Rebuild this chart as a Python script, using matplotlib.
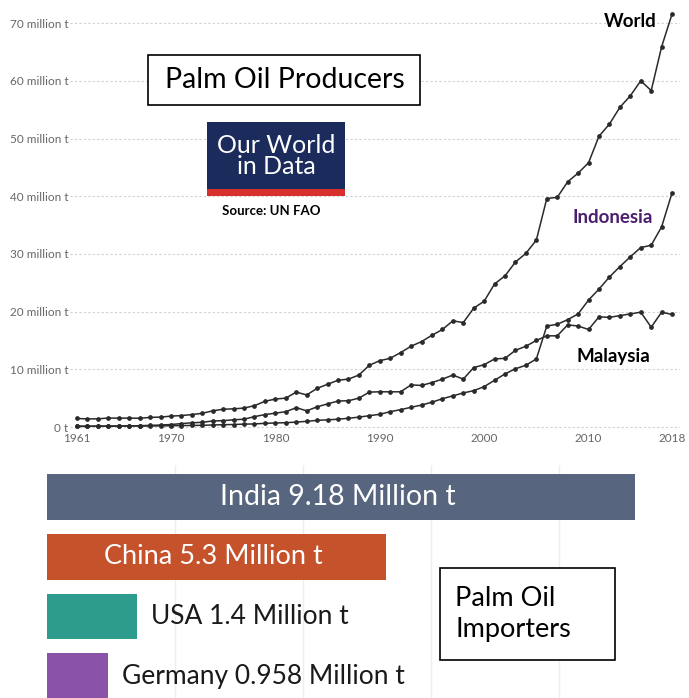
import matplotlib.pyplot as plt
from matplotlib.patches import Rectangle

plt.rcParams['font.family'] = ['Lato', 'DejaVu Sans']

years = list(range(1961, 2019))

world = [1.48, 1.40, 1.42, 1.55, 1.54, 1.54, 1.52, 1.66, 1.72, 1.88,
         1.98, 2.15, 2.38, 2.80, 3.08, 3.15, 3.28, 3.70, 4.45, 4.85,
         5.0, 6.05, 5.55, 6.7, 7.4, 8.1, 8.3, 9.0, 10.7, 11.5,
         11.9, 12.9, 14.0, 14.8, 15.9, 16.9, 18.4, 18.1, 20.6, 21.8,
         24.8, 26.2, 28.6, 30.1, 32.4, 39.6, 39.8, 42.5, 44.0, 45.8,
         50.4, 52.5, 55.4, 57.4, 60.0, 58.3, 65.9, 71.6]

malaysia = [0.09, 0.11, 0.13, 0.15, 0.15, 0.19, 0.23, 0.28, 0.34, 0.43,
            0.59, 0.73, 0.81, 1.05, 1.10, 1.25, 1.35, 1.80, 2.15, 2.40,
            2.65, 3.35, 2.80, 3.50, 4.0, 4.5, 4.55, 5.0, 6.05, 6.1,
            6.1, 6.1, 7.3, 7.2, 7.7, 8.3, 9.0, 8.3, 10.3, 10.8,
            11.8, 11.9, 13.3, 14.0, 15.0, 15.8, 15.8, 17.7, 17.5, 16.9,
            19.1, 19.0, 19.3, 19.6, 19.9, 17.3, 19.9, 19.5]

indonesia = [0.15, 0.14, 0.15, 0.16, 0.16, 0.17, 0.17, 0.18, 0.19, 0.22,
             0.25, 0.27, 0.29, 0.35, 0.40, 0.43, 0.50, 0.53, 0.64, 0.69,
             0.75, 0.85, 0.98, 1.15, 1.24, 1.35, 1.51, 1.71, 1.96, 2.2,
             2.66, 3.0, 3.42, 3.8, 4.3, 4.9, 5.4, 5.9, 6.3, 7.0,
             8.1, 9.2, 10.1, 10.7, 11.8, 17.5, 17.8, 18.6, 19.6, 22.0,
             23.9, 26.0, 27.8, 29.5, 31.1, 31.5, 34.7, 40.6]

y_ticks = [0, 10, 20, 30, 40, 50, 60, 70]
y_labels = ['0 t', '10 million t', '20 million t', '30 million t',
            '40 million t', '50 million t', '60 million t', '70 million t']
x_ticks = [1961, 1970, 1980, 1990, 2000, 2010, 2018]

importers = ['India', 'China', 'USA', 'Germany']
imports = [9.18, 5.3, 1.4, 0.958]
import_labels = ['India 9.18 Million t', 'China 5.3 Million t',
                 'USA 1.4 Million t', 'Germany 0.958 Million t']
bar_colors = ['#58657f', '#c5522b', '#2e9c8c', '#8a52a8']

W, H = 689, 698
fig = plt.figure(figsize=(W / 100, H / 100), dpi=100)


def box(x0, y0, x1, y1):
    return [x0 / W, 1 - y1 / H, (x1 - x0) / W, (y1 - y0) / H]


# production lines
ax = fig.add_axes(box(70, 10, 680, 432))
for s in [world, malaysia, indonesia]:
    ax.plot(years, s, color='#2a2a2a', lw=1.1, marker='o', ms=2.4)
ax.set_xlim(1961 + (70 - 77) / 10.44, 1961 + (680 - 77) / 10.44)
ax.set_ylim(-5 / 5.77, 417 / 5.77)
ax.set_yticks(y_ticks)
ax.set_yticklabels(y_labels, fontsize=8.5, color='#666666')
ax.set_xticks(x_ticks)
ax.set_xticklabels([str(x) for x in x_ticks], fontsize=8.5, color='#666666')
ax.tick_params(length=0, pad=1)
ax.grid(axis='y', color='#d0d0d0', linestyle=(0, (2, 2)), lw=0.8)
for sp in ax.spines.values():
    sp.set_visible(False)

# series names beside the lines
ax.text(2014.0, 70.3, 'World', fontsize=13.5, fontweight='bold', ha='center', va='center')
ax.text(2012.3, 36.3, 'Indonesia', fontsize=13.5, fontweight='bold', color='#4b1f6f',
        ha='center', va='center')
ax.text(2012.4, 12.3, 'Malaysia', fontsize=13.5, fontweight='bold', ha='center', va='center')

fig.add_artist(Rectangle((148 / W, 1 - 105 / H), 272 / W, 50 / H, transform=fig.transFigure,
                         facecolor='white', edgecolor='black', lw=1.2))
fig.text(285 / W, 1 - 80 / H, 'Palm Oil Producers', fontsize=20.5, ha='center', va='center')

fig.add_artist(Rectangle((207 / W, 1 - 189 / H), 138 / W, 67 / H, transform=fig.transFigure,
                         facecolor='#1b2c5c', edgecolor='none'))
fig.add_artist(Rectangle((207 / W, 1 - 196 / H), 138 / W, 7 / H, transform=fig.transFigure,
                         facecolor='#d8302e', edgecolor='none'))
fig.text(276 / W, 1 - 156 / H, 'Our World\nin Data', fontsize=18, color='white',
         ha='center', va='center', linespacing=0.92)
fig.text(271 / W, 1 - 211 / H, 'Source: UN FAO', fontsize=9.5, fontweight='bold',
         ha='center', va='center')

# importers bars
ax2 = fig.add_axes(box(47, 465, 680, 698))
ypos = list(range(len(importers)))
ax2.barh(ypos, imports, height=0.77, color=bar_colors)
ax2.set_xlim(0, 633 / 64.05)
ax2.set_ylim(3.367, -0.542)
ax2.set_xticks([2, 4, 6, 8])
ax2.grid(axis='x', color='#eeeeee', lw=1)
ax2.set_axisbelow(True)
ax2.set_yticks([])
ax2.tick_params(length=0, labelbottom=False)
for sp in ax2.spines.values():
    sp.set_visible(False)

for i, (v, lab) in enumerate(zip(imports, import_labels)):
    if v > 3:
        ax2.text(v / 2 - 0.05, i, lab, color='white', fontsize=20.5 if i == 0 else 19.5,
                 ha='center', va='center')
    else:
        ax2.text(v + 0.22, i, lab, color='#1a1a1a', fontsize=19, ha='left', va='center')

fig.add_artist(Rectangle((440 / W, 1 - 660 / H), 175 / W, 92 / H, transform=fig.transFigure,
                         facecolor='white', edgecolor='black', lw=1.2))
fig.text(455 / W, 1 - 614 / H, 'Palm Oil\nImporters', fontsize=19.5, ha='left', va='center',
         linespacing=1.35)

fig.savefig('out.png', dpi=100)
